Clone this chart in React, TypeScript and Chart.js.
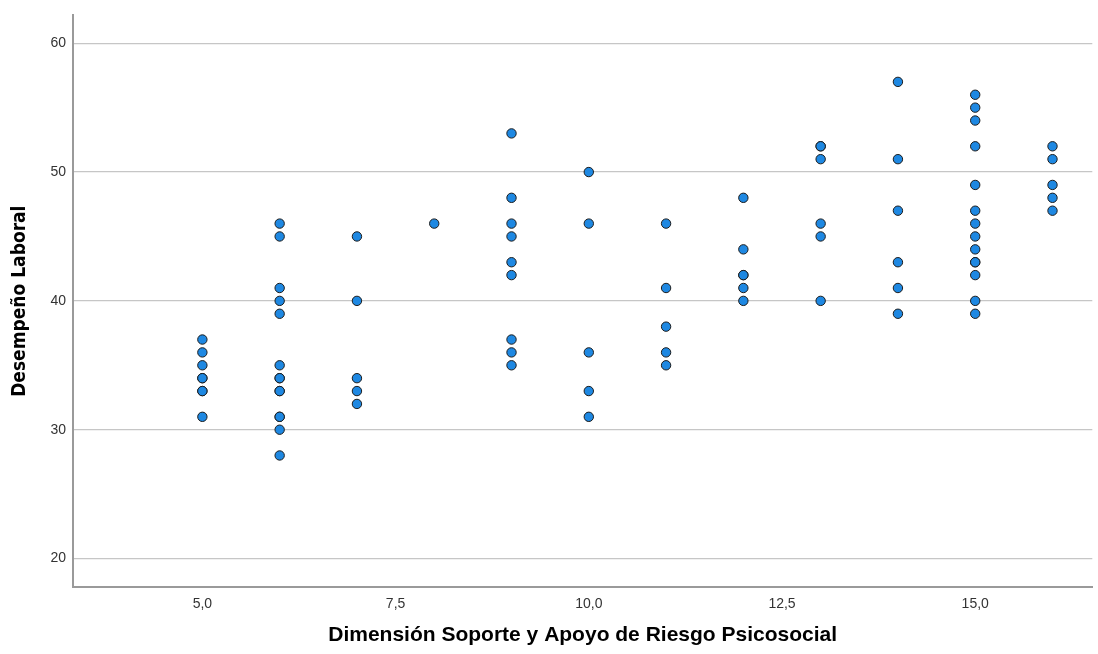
import React, { useEffect, useRef } from "react";
import { Chart, registerables } from "chart.js";

Chart.register(...registerables);

// X levels (Dimensión Soporte y Apoyo de Riesgo Psicosocial)
const xLevels = [5, 6, 7, 8, 9, 10, 11, 12, 13, 14, 15, 16];

// Desempeño Laboral values observed at each X level
const yAt5 = [37, 36, 35, 34, 34, 33, 33, 31];
const yAt6 = [46, 45, 41, 40, 39, 35, 34, 34, 33, 33, 31, 31, 30, 28];
const yAt7 = [45, 40, 34, 33, 32];
const yAt8 = [46];
const yAt9 = [53, 48, 46, 45, 43, 42, 37, 36, 35];
const yAt10 = [50, 46, 36, 33, 31];
const yAt11 = [46, 41, 38, 36, 35];
const yAt12 = [48, 44, 42, 42, 41, 40];
const yAt13 = [52, 52, 51, 46, 45, 40];
const yAt14 = [57, 51, 47, 43, 41, 39];
const yAt15 = [56, 55, 54, 52, 49, 47, 46, 45, 44, 43, 43, 42, 40, 39];
const yAt16 = [52, 51, 49, 48, 47];

const yByLevel = [yAt5, yAt6, yAt7, yAt8, yAt9, yAt10, yAt11, yAt12, yAt13, yAt14, yAt15, yAt16];

// Axis ticks
const xTickValues = [5, 7.5, 10, 12.5, 15];
const xTickLabels = ["5,0", "7,5", "10,0", "12,5", "15,0"];
const yTickValues = [20, 30, 40, 50, 60];
const yTickLabels = ["20", "30", "40", "50", "60"];

const xTitle = "Dimensión Soporte y Apoyo de Riesgo Psicosocial";
const yTitle = "Desempeño Laboral";

export default function App() {
  const canvasRef = useRef<HTMLCanvasElement | null>(null);

  useEffect(() => {
    const canvas = canvasRef.current;
    if (!canvas) return;
    const points: { x: number; y: number }[] = [];
    xLevels.forEach((x, i) => {
      yByLevel[i].forEach((y) => points.push({ x, y }));
    });

    const tickFont = { family: "'Liberation Sans', Arial, sans-serif", size: 14 };

    const chart = new Chart(canvas, {
      type: "scatter",
      data: {
        datasets: [
          {
            data: points,
            pointRadius: 4.7,
            pointBackgroundColor: "#1e88e2",
            pointBorderColor: "#1c1c1c",
            pointBorderWidth: 1,
            pointHoverRadius: 4.7,
          },
        ],
      },
      options: {
        animation: false,
        responsive: false,
        devicePixelRatio: 1,
        layout: { padding: { top: 12, right: 1, left: 0, bottom: 0 } },
        plugins: {
          legend: { display: false },
          tooltip: { enabled: false },
        },
        events: [],
        scales: {
          x: {
            type: "linear",
            min: 3.326,
            max: 16.515,
            afterBuildTicks: (scale: any) => {
              scale.ticks = xTickValues.map((v) => ({ value: v }));
            },
            afterFit: (scale: any) => {
              scale.height = 67;
            },
            ticks: {
              autoSkip: false,
              maxRotation: 0,
              padding: 9,
              color: "#333333",
              font: tickFont,
              callback: (value: any) => {
                const i = xTickValues.indexOf(Number(value));
                return i >= 0 ? xTickLabels[i] : "";
              },
            },
            grid: { display: false, drawTicks: false },
            border: { display: true, color: "#9a9a9a", width: 2 },
            title: {
              display: true,
              text: xTitle,
              color: "#000000",
              font: { family: "'Liberation Sans', Arial, sans-serif", size: 21, weight: "bold" },
              padding: { top: 0, bottom: 6 },
            },
          },
          y: {
            type: "linear",
            min: 17.79,
            max: 62.16,
            afterBuildTicks: (scale: any) => {
              scale.ticks = yTickValues.map((v) => ({ value: v }));
            },
            afterFit: (scale: any) => {
              scale.width = 73;
            },
            ticks: {
              autoSkip: false,
              padding: 7,
              color: "#333333",
              font: tickFont,
              callback: (value: any) => {
                const i = yTickValues.indexOf(Number(value));
                return i >= 0 ? yTickLabels[i] : "";
              },
            },
            grid: { display: true, drawTicks: false, color: "#c6c6c6", lineWidth: 1.2 },
            border: { display: true, color: "#9a9a9a", width: 2 },
            title: {
              display: true,
              text: yTitle,
              color: "#000000",
              font: { family: "'Liberation Sans Narrow', 'DejaVu Sans Condensed', 'Liberation Sans', sans-serif", size: 19, weight: "bold" },
              padding: { top: 9, bottom: 0 },
            },
          },
        },
      },
    } as any);

    return () => {
      chart.destroy();
    };
  }, []);

  return (
    <div style={{ position: "fixed", left: 0, top: 0, width: 1098, height: 654, background: "#ffffff" }}>
      <canvas ref={canvasRef} width={1098} height={654} style={{ width: 1098, height: 654, display: "block" }} />
    </div>
  );
}
